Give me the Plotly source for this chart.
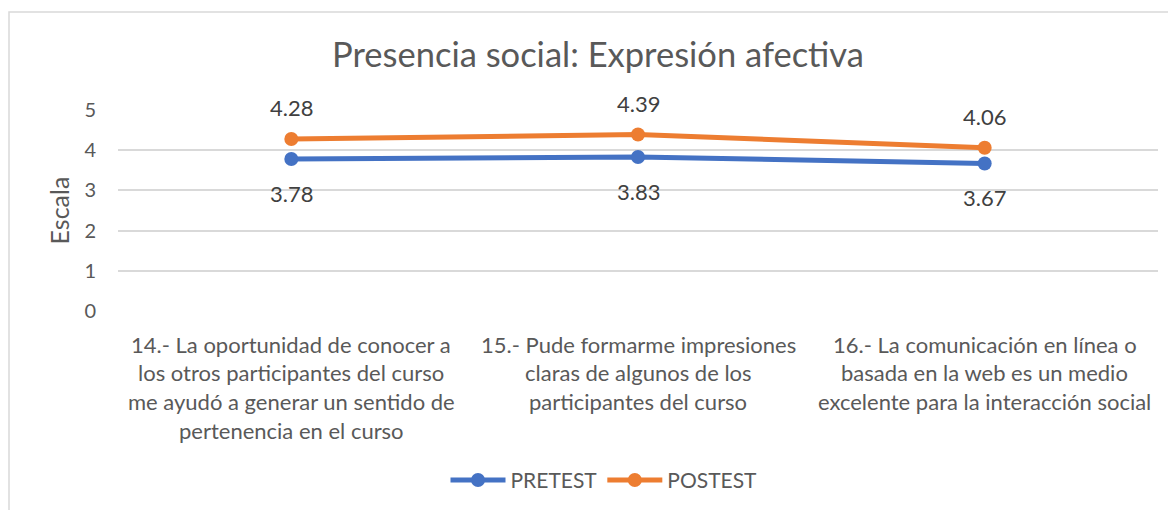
import plotly.graph_objects as go

title = "Presencia social: Expresión afectiva"
categories = ["Ítem 14", "Ítem 15", "Ítem 16"]
category_lines = [
    ["14.- La oportunidad de conocer a", "los otros participantes del curso",
     "me ayudó a generar un sentido de", "pertenencia en el curso"],
    ["15.- Pude formarme impresiones", "claras de algunos de los",
     "participantes del curso"],
    ["16.- La comunicación en línea o", "basada en la web es un medio",
     "excelente para la interacción social"],
]
pretest = [3.78, 3.83, 3.67]
postest = [4.28, 4.39, 4.06]
y_ticks = [0, 1, 2, 3, 4, 5]

FONT = "Lato"
GREY = "#595959"
OFF = 8  # default body margin of the page

fig = go.Figure()
fig.add_trace(go.Scatter(x=categories, y=pretest, name="PRETEST", mode="lines+markers",
                         line=dict(color="#4472C4", width=5),
                         marker=dict(size=14, color="#4472C4")))
fig.add_trace(go.Scatter(x=categories, y=postest, name="POSTEST", mode="lines+markers",
                         line=dict(color="#ED7D31", width=5),
                         marker=dict(size=14, color="#ED7D31")))

annotations = []
for i, v in enumerate(postest):
    annotations.append(dict(x=i, y=v, xref="x", yref="y", text=f"{v:.2f}", showarrow=False,
                            yshift=31, font=dict(family=FONT, size=22, color="#404040")))
for i, v in enumerate(pretest):
    annotations.append(dict(x=i, y=v, xref="x", yref="y", text=f"{v:.2f}", showarrow=False,
                            yshift=-34, font=dict(family=FONT, size=22, color="#404040")))
for i, lines in enumerate(category_lines):
    for j, ln in enumerate(lines):
        annotations.append(dict(x=i, y=0, xref="x", yref="paper", text=ln, showarrow=False,
                                yanchor="middle", yshift=-33 - j * 28.9,
                                font=dict(family=FONT, size=22, color=GREY)))

W, H = 1160, 502
fig.update_layout(
    width=W, height=H,
    margin=dict(l=118 - OFF, r=W - (1158 - OFF), t=110 - OFF, b=H - (313 - OFF)),
    paper_bgcolor="white", plot_bgcolor="white",
    title=dict(text=title, x=(598 - OFF) / W, xanchor="center", y=1 - (55 - OFF) / H,
               yanchor="middle", font=dict(family=FONT, size=34.5, color=GREY)),
    xaxis=dict(type="category", showticklabels=False, showgrid=False, zeroline=False,
               showline=False, ticks="", range=[-0.5, 2.5]),
    yaxis=dict(range=[0, 5], tickvals=y_ticks, showgrid=True, gridcolor="#D9D9D9", gridwidth=1.5,
               zeroline=False, showline=False, ticks="", ticklen=0, ticklabelstandoff=21,
               tickfont=dict(family=FONT, size=20, color=GREY),
               title=dict(text="Escala", font=dict(family=FONT, size=25, color=GREY), standoff=7)),
    legend=dict(orientation="h", x=(604 - 118) / 1040, xanchor="center", y=(313 - 484) / 203,
                yanchor="middle", font=dict(family=FONT, size=21, color=GREY), itemwidth=55),
    annotations=annotations,
    shapes=[dict(type="rect", xref="paper", yref="paper",
                 x0=(9 - 118) / 1040, x1=(1200 - 118) / 1040,
                 y0=(313 - 540) / 203, y1=(313 - 11) / 203,
                 line=dict(color="#D9D9D9", width=1.5), fillcolor="rgba(0,0,0,0)", layer="below")],
)

fig.write_html("out.html")
